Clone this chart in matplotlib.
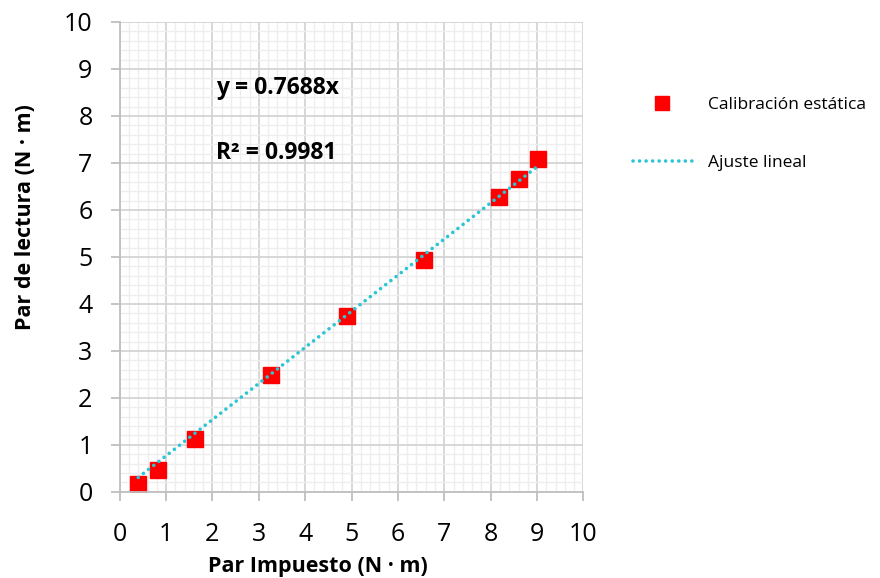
import numpy as np
import matplotlib.pyplot as plt
from matplotlib.lines import Line2D
from matplotlib.ticker import MultipleLocator

plt.rcParams['font.family'] = ['Open Sans', 'DejaVu Sans']

par_impuesto = [0.4, 0.82, 1.63, 3.27, 4.9, 6.56, 8.18, 8.6, 9.02]
par_lectura = [0.17, 0.47, 1.13, 2.48, 3.74, 4.94, 6.28, 6.65, 7.09]
pendiente = 0.7688
r2 = 0.9981

fig = plt.figure(figsize=(8.8, 5.78), dpi=100)
ax = fig.add_axes([0.136, 0.149, 0.527, 0.813])

dots = (0, (0.01, 1.8))
# trend line
xt = np.array([min(par_impuesto), max(par_impuesto)])
ax.plot(xt, pendiente * xt, linestyle=dots, color='#2BC5D4', lw=2.6,
        dash_capstyle='round', zorder=3)
ax.plot(par_impuesto, par_lectura, 's', color='#FF0000', ms=11.5, zorder=2)

ax.set_xlim(0, 10)
ax.set_ylim(0, 10)
ax.xaxis.set_major_locator(MultipleLocator(1))
ax.yaxis.set_major_locator(MultipleLocator(1))
ax.xaxis.set_minor_locator(MultipleLocator(0.2))
ax.yaxis.set_minor_locator(MultipleLocator(0.2))
ax.grid(which='major', color='#D4D4D4', lw=1.3)
ax.grid(which='minor', color='#EEEEEE', lw=1.0)
ax.set_axisbelow(True)

for s in ['top', 'right']:
    ax.spines[s].set_visible(False)
for s in ['left', 'bottom']:
    ax.spines[s].set_color('#BFBFBF')
    ax.spines[s].set_linewidth(1.3)
ax.tick_params(which='major', length=6.5, width=1.3, color='#BFBFBF', labelsize=18)
ax.tick_params(axis='x', pad=15)
ax.tick_params(axis='y', pad=13)
ax.tick_params(which='minor', length=0)

ax.set_xlabel('Par Impuesto (N · m)', fontsize=15.5, fontweight='bold')
ax.set_ylabel('Par de lectura (N · m)', fontsize=15.5, fontweight='bold')
ax.xaxis.set_label_coords(0.428, -0.136)
ax.yaxis.set_label_coords(-0.181, 0.585)

ax.text(2.07, 8.6, 'y = %.4fx' % pendiente, fontsize=16.5, fontweight='bold', va='center')
ax.text(2.07, 7.21, 'R² = %.4f' % r2, fontsize=16.5, fontweight='bold', va='center')

handles = [Line2D([], [], marker='s', color='#FF0000', ls='none', ms=9.5),
           Line2D([], [], color='#2BC5D4', ls=dots, lw=2.6, dash_capstyle='round')]
fig.legend(handles, ['Calibración estática', 'Ajuste lineal'], loc='upper left',
           bbox_to_anchor=(0.701, 0.86), frameon=False, fontsize=12.5,
           labelspacing=2.45, handlelength=3.45, handletextpad=0.9)

fig.savefig('out.png', dpi=100)
